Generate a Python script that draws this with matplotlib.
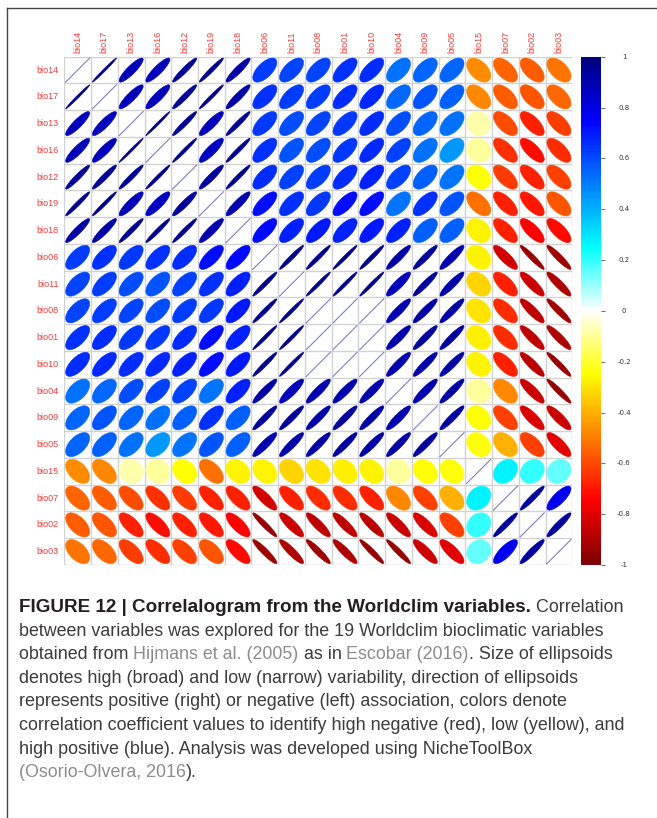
import numpy as np
import matplotlib
matplotlib.use("Agg")
import matplotlib.pyplot as plt
from matplotlib.colors import LinearSegmentedColormap
from matplotlib.patches import Polygon
from matplotlib.lines import Line2D

# variable order as in the correlogram (hierarchical clustering order)
variables = ["bio14", "bio17", "bio13", "bio16", "bio12", "bio19", "bio18",
             "bio06", "bio11", "bio08", "bio01", "bio10", "bio04", "bio09",
             "bio05", "bio15", "bio07", "bio02", "bio03"]

# upper triangle, row i holds r(i, j) for j > i
r_bio14 = [0.99, 0.88, 0.88, 0.95, 0.97, 0.92, 0.63, 0.61, 0.61, 0.65, 0.66, 0.53, 0.55, 0.55, -0.47, -0.55, -0.57, -0.52]
r_bio17 = [0.88, 0.88, 0.95, 0.98, 0.92, 0.65, 0.63, 0.63, 0.66, 0.67, 0.54, 0.58, 0.56, -0.48, -0.57, -0.58, -0.54]
r_bio13 = [0.99, 0.96, 0.88, 0.96, 0.64, 0.60, 0.61, 0.64, 0.66, 0.60, 0.55, 0.53, -0.08, -0.60, -0.68, -0.63]
r_bio16 = [0.98, 0.86, 0.97, 0.65, 0.58, 0.60, 0.64, 0.67, 0.62, 0.53, 0.45, -0.10, -0.65, -0.72, -0.66]
r_bio12 = [0.93, 0.97, 0.66, 0.62, 0.63, 0.66, 0.68, 0.62, 0.56, 0.52, -0.25, -0.63, -0.68, -0.62]
r_bio19 = [0.90, 0.72, 0.65, 0.64, 0.72, 0.72, 0.52, 0.65, 0.58, -0.53, -0.68, -0.70, -0.58]
r_bio18 = [0.73, 0.68, 0.70, 0.68, 0.70, 0.68, 0.56, 0.56, -0.27, -0.68, -0.75, -0.73]
r_bio06 = [0.97, 0.97, 0.98, 0.97, 0.92, 0.94, 0.90, -0.27, -0.83, -0.95, -0.93]
r_bio11 = [0.98, 0.98, 0.98, 0.88, 0.94, 0.91, -0.33, -0.68, -0.85, -0.90]
r_bio08 = [1.00, 1.00, 0.90, 0.92, 0.92, -0.30, -0.66, -0.87, -0.93]
r_bio01 = [1.00, 0.90, 0.93, 0.93, -0.28, -0.66, -0.87, -0.90]
r_bio10 = [0.90, 0.92, 0.92, -0.27, -0.68, -0.88, -0.95]
r_bio04 = [0.90, 0.92, -0.10, -0.48, -0.85, -0.95]
r_bio09 = [0.93, -0.25, -0.62, -0.82, -0.85]
r_bio05 = [-0.24, -0.40, -0.62, -0.80]
r_bio15 = [0.27, 0.20, 0.15]
r_bio07 = [0.95, 0.78]
r_bio02 = [0.93]

upper = [r_bio14, r_bio17, r_bio13, r_bio16, r_bio12, r_bio19, r_bio18, r_bio06,
         r_bio11, r_bio08, r_bio01, r_bio10, r_bio04, r_bio09, r_bio05, r_bio15,
         r_bio07, r_bio02]

n = len(variables)
corr = np.eye(n)
for i, row in enumerate(upper):
    for k, v in enumerate(row):
        corr[i, i + 1 + k] = v
        corr[i + 1 + k, i] = v

cbar_ticks = [1, 0.8, 0.6, 0.4, 0.2, 0, -0.2, -0.4, -0.6, -0.8, -1]

cmap = LinearSegmentedColormap.from_list(
    "corr", ["#7F0000", "red", "#FF7F00", "yellow", "white", "cyan",
             "#007FFF", "blue", "#00007F"])

W, H = 657, 818
fig = plt.figure(figsize=(W / 100, H / 100), dpi=100)


def fx(px):
    return px / W


def fy(py):
    return 1 - py / H


# main grid
gl, gt, gr, gb = 64.3, 56.7, 572.3, 565.0
ax = fig.add_axes([fx(gl), fy(gb), (gr - gl) / W, (gb - gt) / H])
ax.set_xlim(0, n)
ax.set_ylim(n, 0)
ax.axis("off")

sc = 0.9
k = np.linspace(0, 2 * np.pi, 99)
for i in range(n):
    for j in range(n):
        r = corr[i, j]
        cx, cy = j + 0.5, i + 0.5
        if r >= 0.995:
            ax.plot([cx - sc / 2, cx + sc / 2], [cy + sc / 2, cy - sc / 2],
                    color="#7E7EC4", lw=0.8, zorder=3)
            continue
        a = np.arccos(r)
        ex = sc * np.cos(k + a / 2) / 2
        ey = sc * np.cos(k - a / 2) / 2
        col = cmap((r + 1) / 2)
        ax.add_patch(Polygon(np.column_stack([cx + ex, cy - ey]), closed=True,
                             facecolor=col, edgecolor=col, lw=0.4, zorder=2))

for g in range(n + 1):
    ax.plot([g, g], [0, n], color="#D2D2D2", lw=1.0, zorder=1)
    ax.plot([0, n], [g, g], color="#D2D2D2", lw=1.0, zorder=1)

lab_col = "#F23B3B"
for i, name in enumerate(variables):
    ax.text(-0.2, i + 0.5, name, ha="right", va="center", fontsize=6.5,
            color=lab_col, family="Liberation Sans")
    ax.text(i + 0.5, -0.14, name, ha="center", va="bottom", rotation=90,
            fontsize=6.5, color=lab_col, family="Liberation Sans")

# colour legend
cl, cr = 581.0, 601.0
cax = fig.add_axes([fx(cl), fy(gb), (cr - cl) / W, (gb - gt) / H])
grad = np.linspace(-1, 1, 200).reshape(-1, 1)
cax.imshow(grad, cmap=cmap, vmin=-1, vmax=1, aspect="auto",
           extent=[0, 1, -1, 1], origin="lower")
cax.set_xlim(0, 1)
cax.set_ylim(-1, 1)
for s in cax.spines.values():
    s.set_visible(False)
cax.set_xticks([])
cax.yaxis.tick_right()
cax.set_yticks(cbar_ticks)
cax.set_yticklabels([])
cax.tick_params(axis="y", length=3, width=0.6, color="#555555")
for t in cbar_ticks:
    cax.text((624 - cl) / (cr - cl), t, "%g" % t, ha="center", va="center",
             fontsize=5, color="#333333", transform=cax.get_yaxis_transform())

# frame around the figure panel
fig.add_artist(Line2D([fx(7), fx(W)], [fy(8), fy(8)], color="#444444", lw=1.0))
fig.add_artist(Line2D([fx(7), fx(7)], [fy(8), fy(H)], color="#444444", lw=1.0))

# caption
cap_font = "Liberation Sans"
renderer = fig.canvas.get_renderer()
dark, grey = "#3C3C3C", "#8C8C8C"
caption = [
    [("FIGURE 12 | Correlalogram from the Worldclim variables.", "#231F20", "bold"),
     (" Correlation", dark, "normal")],
    [("between variables was explored for the 19 Worldclim bioclimatic variables", dark, "normal")],
    [("obtained from ", dark, "normal"), ("Hijmans et al. (2005)", grey, "normal"),
     (" as in ", dark, "normal"), ("Escobar (2016)", grey, "normal"),
     (". Size of ellipsoids", dark, "normal")],
    [("denotes high (broad) and low (narrow) variability, direction of ellipsoids", dark, "normal")],
    [("represents positive (right) or negative (left) association, colors denote", dark, "normal")],
    [("correlation coefficient values to identify high negative (red), low (yellow), and", dark, "normal")],
    [("high positive (blue). Analysis was developed using NicheToolBox", dark, "normal")],
    [("(Osorio-Olvera, 2016", grey, "normal"), (").", dark, "normal")],
]
y0 = 612
for li, parts in enumerate(caption):
    x = 19.0
    y = y0 + li * 23.6
    for txt, col, wt in parts:
        size = 13.6 if wt == "bold" else 12.9
        t = fig.text(fx(x), fy(y), txt, color=col, fontweight=wt, fontsize=size,
                     va="baseline", ha="left", family=cap_font)
        bb = t.get_window_extent(renderer)
        x += bb.width

fig.savefig("out.png", dpi=100)
